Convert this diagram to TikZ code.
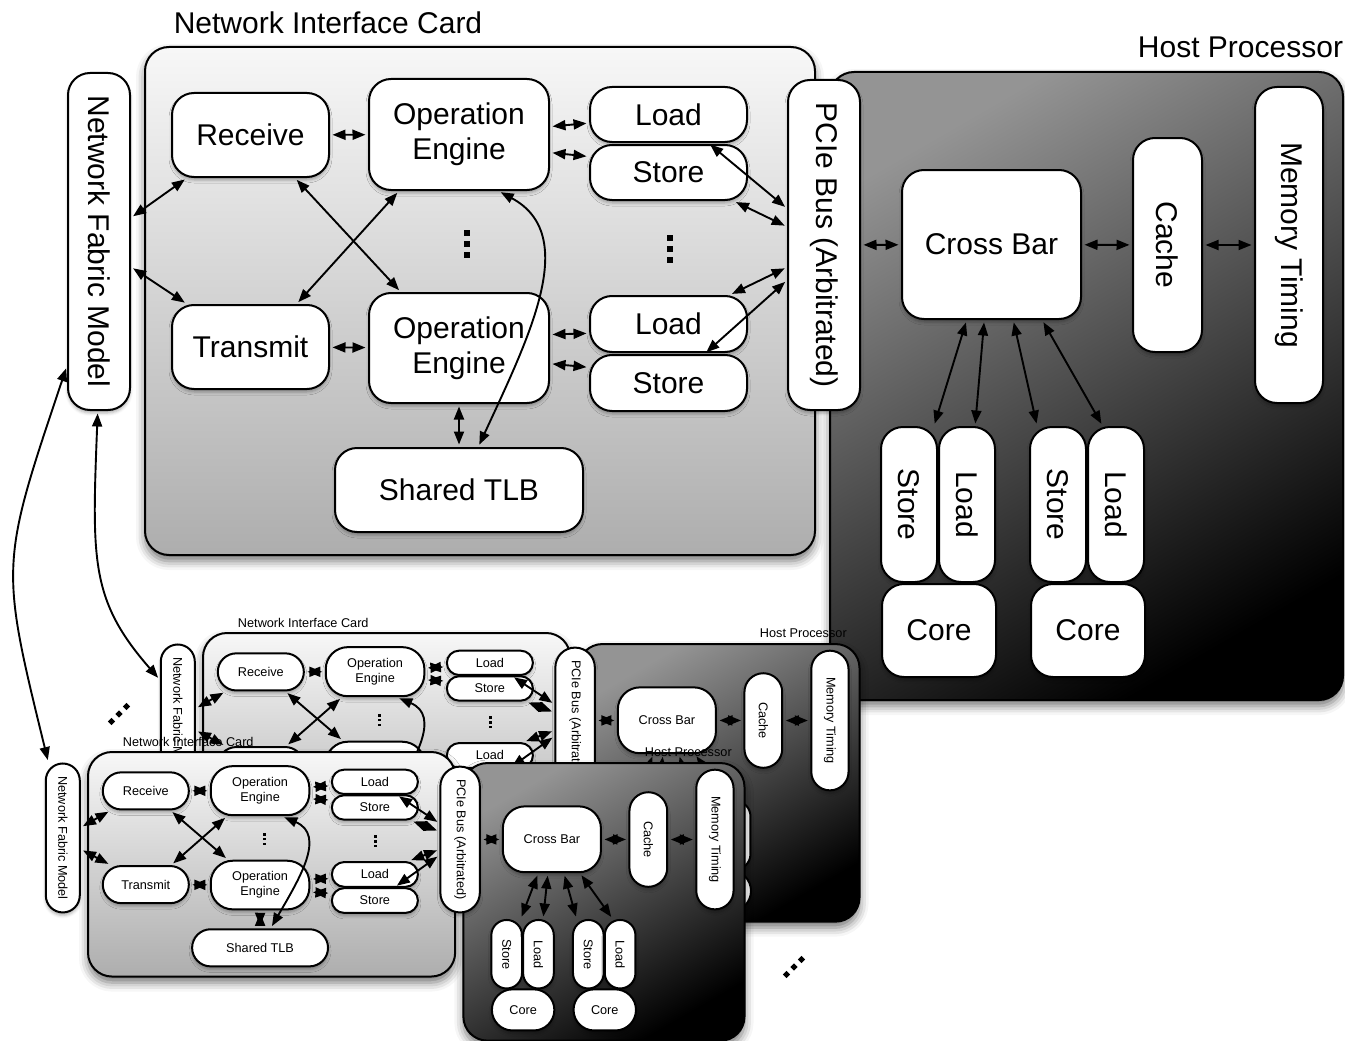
\documentclass[tikz,border=0pt]{standalone}
\usepackage{fontspec}
\usepackage{graphicx}
\setmainfont{Liberation Sans}
\usetikzlibrary{arrows.meta,calc,shadows.blur}

% points on the edges of a node, given as a fraction along that edge
\newcommand\onS[2]{($(#1.south west)!#2!(#1.south east)$)}
\newcommand\onN[2]{($(#1.north west)!#2!(#1.north east)$)}
\newcommand\onW[2]{($(#1.north west)!#2!(#1.south west)$)}
\newcommand\onE[2]{($(#1.north east)!#2!(#1.south east)$)}

\tikzset{
  box/.style={draw=black, line width=2pt, fill=white, inner sep=0pt, align=center,
    blur shadow={shadow xshift=0pt, shadow yshift=-3pt, shadow blur radius=3pt, shadow opacity=30}},
  rnd/.code 2 args={\pgfmathsetmacro\rr{min(22,\sx*#1/2,\sy*#2/2)}%
    \edef\tmp{\noexpand\pgfkeysalso{/tikz/rounded corners=\rr pt}}\tmp},
  bx/.style 2 args={box, minimum width={\sx*#1}, minimum height={\sy*#2}, rnd={#1}{#2}},
  panelbase/.style 2 args={draw=black, line width=2pt, rounded corners=24pt, inner sep=0pt,
    minimum width={\sx*#1}, minimum height={\sy*#2},
    blur shadow={shadow xshift=0pt, shadow yshift=-6pt, shadow blur radius=9pt, shadow opacity=55}},
  nicpanel/.style 2 args={panelbase={#1}{#2}, top color=black!3, bottom color=black!32},
  hostpanel/.style 2 args={panelbase={#1}{#2}, top color=black!42, bottom color=black, shading angle=30},
  title/.style={inner sep=0pt, anchor=base},
  link/.style={line width=1.9pt, {Triangle[length=13pt,width=10pt]}-{Triangle[length=13pt,width=10pt]},
    shorten <=2.5pt, shorten >=2.5pt},
}

% one complete NIC + host processor system; #1 name prefix, (#2,#3) top left of the NIC panel,
% #4/#5 horizontal/vertical scale, #6 font size
\newcommand\drawsystem[6]{%
  \def\sx{#4}\def\sy{#5}\def\fs{#6}\pgfmathsetmacro\fl{1.17*#6}%
  \begin{scope}[name prefix=#1-, shift={(#2-145*#4,#3-47*#5)}, xscale=#4, yscale=#5,
                font=\fontsize{\fs}{\fl}\selectfont]
    % panels and their titles
    \node[nicpanel={670}{508}] (nic) at (480,301) {};
    \node[hostpanel={513}{628}] (host) at (1086.5,386) {};
    \node[title] (nictitle) at (328,33.5) {Network Interface Card};
    \node[title] (hosttitle) at (1240.5,58) {Host Processor};
    % network interface card
    \node[bx={62}{337}] (nfm) at (99,241.5) {\rotatebox{-90}{Network Fabric Model}};
    \node[bx={157}{84}] (rec) at (250.5,135) {Receive};
    \node[bx={180}{111}] (oe1) at (459,134.5) {Operation\\Engine};
    \node[bx={157}{55}] (ld1) at (668.5,114.5) {Load};
    \node[bx={157}{55}] (st1) at (668.5,172.5) {Store};
    \node[bx={157}{84}] (tx) at (250.5,347) {Transmit};
    \node[bx={180}{110}] (oe2) at (459,348) {Operation\\Engine};
    \node[bx={157}{56}] (ld2) at (668.5,324) {Load};
    \node[bx={157}{56}] (st2) at (668.5,383) {Store};
    \node[bx={248}{84}] (tlb) at (459,490) {Shared TLB};
    \node[bx={72}{330}] (pci) at (824,245) {\rotatebox{-90}{PCIe Bus (Arbitrated)}};
    % host processor
    \node[bx={179}{149}] (xb) at (991.5,244.5) {Cross Bar};
    \node[bx={69}{214}] (cache) at (1167.5,245) {\rotatebox{-90}{Cache}};
    \node[bx={68}{316}] (mem) at (1289,245) {\rotatebox{-90}{Memory Timing}};
    \node[bx={56}{155}] (s1) at (909,504.5) {\rotatebox{-90}{Store}};
    \node[bx={56}{155}] (l1) at (967,504.5) {\rotatebox{-90}{Load}};
    \node[bx={114}{93}] (c1) at (939,630.5) {Core};
    \node[bx={56}{155}] (s2) at (1058,504.5) {\rotatebox{-90}{Store}};
    \node[bx={56}{155}] (l2) at (1116,504.5) {\rotatebox{-90}{Load}};
    \node[bx={114}{93}] (c2) at (1088,630.5) {Core};
    % vertical ellipses between the repeated engines and load/store units
    \foreach \k in {-1,0,1} {
      \fill (464,241+11*\k) rectangle +(6,6);
      \fill (667,246+11*\k) rectangle +(6,6);
    }
    % connectors
    \draw[link] (rec) -- (oe1);
    \draw[link] (tx) -- (oe2);
    \draw[link] \onE{oe1}{0.43} -- \onW{ld1}{0.65};
    \draw[link] \onE{oe1}{0.66} -- \onW{st1}{0.22};
    \draw[link] \onE{oe2}{0.38} -- \onW{ld2}{0.66};
    \draw[link] \onE{oe2}{0.64} -- \onW{st2}{0.23};
    \draw[link] \onE{nfm}{0.43} -- \onS{rec}{0.1};
    \draw[link] \onE{nfm}{0.575} -- \onN{tx}{0.1};
    \draw[link] \onS{rec}{0.78} -- \onN{oe2}{0.18};
    \draw[link] \onN{tx}{0.79} -- \onS{oe1}{0.17};
    \draw[link] (oe2) -- (tlb);
    \draw[link] \onN{tlb}{0.577} .. controls (530,335) and (580,235) .. \onS{oe1}{0.717};
    \draw[link] \onS{ld1}{0.75} -- \onW{pci}{0.39};
    \draw[link] \onS{st1}{0.91} -- \onW{pci}{0.445};
    \draw[link] \onN{ld2}{0.885} -- \onW{pci}{0.567};
    \draw[link] \onN{st2}{0.726} -- \onW{pci}{0.606};
    \draw[link] (pci) -- (xb);
    \draw[link] (xb) -- (cache);
    \draw[link] (cache) -- (mem);
    \draw[link] \onS{xb}{0.363} -- \onN{s1}{0.93};
    \draw[link] \onS{xb}{0.46} -- \onN{l1}{0.64};
    \draw[link] \onS{xb}{0.62} -- \onN{s2}{0.14};
    \draw[link] \onS{xb}{0.78} -- \onN{l2}{0.27};
  \end{scope}}

% small diagonal ellipsis made of three diamonds
\newcommand\diagdots[2]{%
  \foreach \k in {-1,0,1}
    \fill ({#1+7.5*\k},{#2-7.5*\k}) +(0,-3.6) -- +(3.6,0) -- +(0,3.6) -- +(-3.6,0) -- cycle;}

\begin{document}
\begin{tikzpicture}[x=1pt,y=-1pt]
  \useasboundingbox (0,0) rectangle (1345,1041);
  \drawsystem{main}{145}{47}{1}{1}{30}
  \drawsystem{rear}{203}{633}{0.548}{0.442}{12.7}
  \drawsystem{front}{88}{752}{0.548}{0.442}{12.7}
  % links from the main network fabric model to the replicated nodes
  \draw[link] \onS{main-nfm}{0.48} .. controls (92,560) and (90,600) .. \onW{rear-nfm}{0.24};
  \draw[link] \onW{main-nfm}{0.867} .. controls (0,565) and (0,565) .. \onN{front-nfm}{0.1};
  \diagdots{119}{714}
  \diagdots{794}{967}
\end{tikzpicture}
\end{document}
